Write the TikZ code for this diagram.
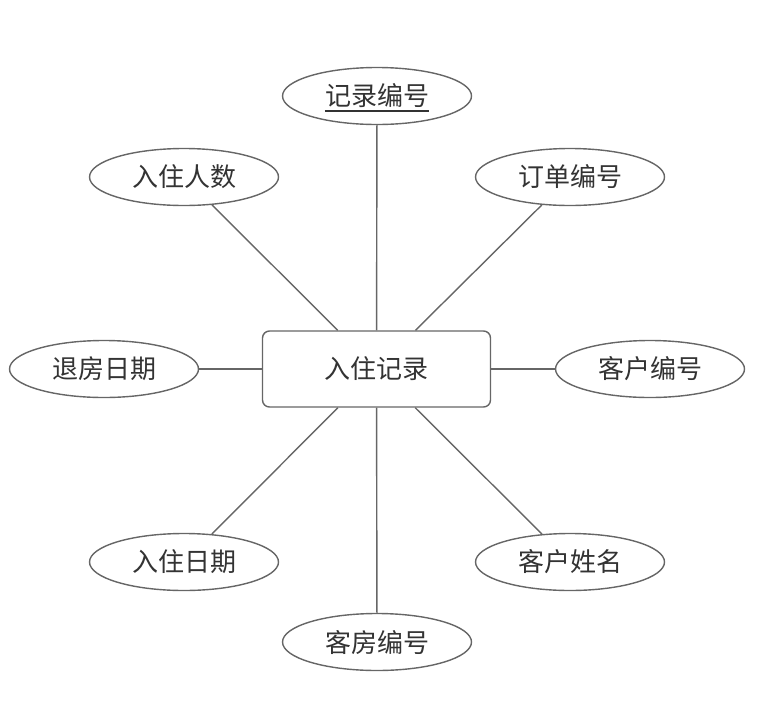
\documentclass[tikz,border=0pt]{standalone}
\usepackage{fontspec}
\setmainfont{Noto Sans CJK SC}
\usetikzlibrary{shapes.geometric}
\definecolor{edgegray}{HTML}{666666}
\definecolor{txtgray}{HTML}{333333}
\tikzset{
  attr/.style={ellipse, draw=edgegray, line width=1.4pt, fill=white, minimum width=189pt, minimum height=57pt, inner sep=0pt, text=txtgray, font=\fontsize{26}{30}\selectfont},
  entity/.style={rectangle, rounded corners=7pt, draw=edgegray, line width=1.4pt, fill=white, minimum width=228pt, minimum height=76pt, inner sep=0pt, text=txtgray, font=\fontsize{26}{30}\selectfont},
  conn/.style={draw=edgegray, line width=1.4pt},
  plain/.style={inner sep=0pt, text=txtgray, font=\fontsize{26}{30}\selectfont}
}
\begin{document}
\begin{tikzpicture}[x=1pt,y=-1pt]
\useasboundingbox (0,0) rectangle (758,713);
\node[entity] (e) at (376.5,369) {入住记录};
\node[attr] (a1) at (377,96) {};
\node[plain] (a1t) at (377,96) {记录编号};
\node[attr] (a2) at (184,177) {入住人数};
\node[attr] (a3) at (570,177) {订单编号};
\node[attr] (a4) at (104,369) {退房日期};
\node[attr] (a5) at (650,369) {客户编号};
\node[attr] (a6) at (184,562) {入住日期};
\node[attr] (a7) at (570,562) {客户姓名};
\node[attr] (a8) at (377,642) {客房编号};
\draw[txtgray, line width=2pt] ([yshift=-5pt]a1t.base west) -- ([yshift=-5pt]a1t.base east);
\foreach \a in {a1,a2,a3,a4,a5,a6,a7,a8}{
  \path[conn] (e) -- (\a);
}
\end{tikzpicture}
\end{document}
